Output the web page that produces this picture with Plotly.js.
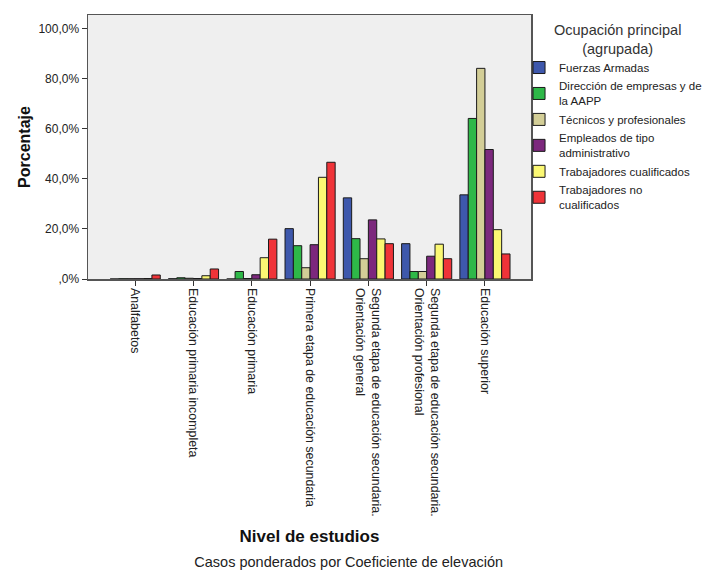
<!DOCTYPE html>
<html>
<head>
<meta charset="utf-8">
<script src="https://cdn.plot.ly/plotly-3.0.1.min.js"></script>
<style>html,body{margin:0;padding:0;background:#fff;}#chart{width:703px;height:570px;}</style>
</head>
<body>
<div id="chart"></div>
<script>
const categories = [
  "Analfabetos",
  "Educación primaria incompleta",
  "Educación primaria",
  "Primera etapa de educación secundaria",
  "Segunda etapa de educación secundaria.<br>Orientación general",
  "Segunda etapa de educación secundaria.<br>Orientación profesional",
  "Educación superior"
];
const seriesNames = [
  "Fuerzas Armadas",
  "Dirección de empresas y de<br>la AAPP",
  "Técnicos y profesionales",
  "Empleados de tipo<br>administrativo",
  "Trabajadores cualificados",
  "Trabajadores no<br>cualificados"
];
const fuerzasArmadas   = [0.0, 0.1, 0.0, 20.1, 32.4, 14.1, 33.6];
const direccion        = [0.1, 0.5, 3.0, 13.3, 16.1, 3.0, 64.1];
const tecnicos         = [0.1, 0.3, 0.2, 4.5, 8.1, 3.0, 84.1];
const empleados        = [0.1, 0.2, 1.7, 13.7, 23.6, 9.1, 51.7];
const cualificados     = [0.2, 1.3, 8.5, 40.6, 16.0, 13.9, 19.7];
const noCualificados   = [1.6, 4.0, 15.9, 46.6, 14.1, 8.1, 10.0];
const seriesValues = [fuerzasArmadas, direccion, tecnicos, empleados, cualificados, noCualificados];
const seriesColors = ["#3E58AC", "#2EB848", "#D3CE97", "#7C287D", "#FBF873", "#EF3338"];
const yTickVals = [0, 20, 40, 60, 80, 100];
const yTickText = [",0%", "20,0%", "40,0%", "60,0%", "80,0%", "100,0%"];
const legendTitle = "Ocupación principal<br>(agrupada)";

const FONT = "Liberation Sans, Arial, sans-serif";

const traces = seriesNames.map((name, i) => ({
  type: "bar",
  name: name,
  x: categories,
  y: seriesValues[i],
  marker: { color: seriesColors[i], line: { color: "#1a1a1a", width: 1 } },
  hoverinfo: "x+y+name"
}));

const layout = {
  width: 703,
  height: 570,
  margin: { l: 88, r: 172, t: 15, b: 291, autoexpand: false },
  paper_bgcolor: "#ffffff",
  plot_bgcolor: "#efefef",
  font: { family: FONT, size: 12, color: "#222" },
  barmode: "group",
  bargap: 0.14,
  bargroupgap: 0,
  showlegend: true,
  legend: {
    x: 0.973,
    xanchor: "left",
    y: 0.856,
    yanchor: "top",
    font: { family: FONT, size: 11.5, color: "#222" },
    tracegroupgap: 0,
    itemwidth: 30,
    bgcolor: "rgba(0,0,0,0)"
  },
  annotations: [{
    text: legendTitle,
    xref: "paper", yref: "paper",
    x: 1.196, y: 0.908,
    xanchor: "center", yanchor: "middle",
    align: "center",
    showarrow: false,
    font: { family: FONT, size: 14.5, color: "#333" }
  }],
  xaxis: {
    type: "category",
    range: [-0.81, 6.79],
    tickangle: 90,
    ticks: "outside",
    ticklen: 5,
    tickcolor: "#333",
    showgrid: false,
    showline: true,
    mirror: true,
    linecolor: "#555",
    linewidth: 1.5,
    tickfont: { family: FONT, size: 12.4, color: "#222" },
    title: { text: "Nivel de estudios", standoff: 14, font: { family: FONT, size: 17, color: "#111", weight: "bold" } },
    automargin: false
  },
  yaxis: {
    range: [0, 105.4],
    tickvals: yTickVals,
    ticktext: yTickText,
    ticks: "outside",
    ticklen: 5,
    tickcolor: "#333",
    showgrid: false,
    zeroline: false,
    showline: true,
    mirror: true,
    linecolor: "#555",
    linewidth: 1.5,
    tickfont: { family: FONT, size: 12, color: "#222" },
    title: { text: "Porcentaje", standoff: 4, font: { family: FONT, size: 16, color: "#111", weight: "bold" } },
    automargin: false
  },
  title: {
    text: "Casos ponderados por Coeficiente de elevación",
    xref: "container",
    yref: "container",
    x: 0.496,
    xanchor: "center",
    y: 0.014,
    yanchor: "middle",
    font: { family: FONT, size: 14.5, color: "#222" }
  }
};

Plotly.newPlot("chart", traces, layout, { displayModeBar: false, staticPlot: true });
</script>
</body>
</html>
